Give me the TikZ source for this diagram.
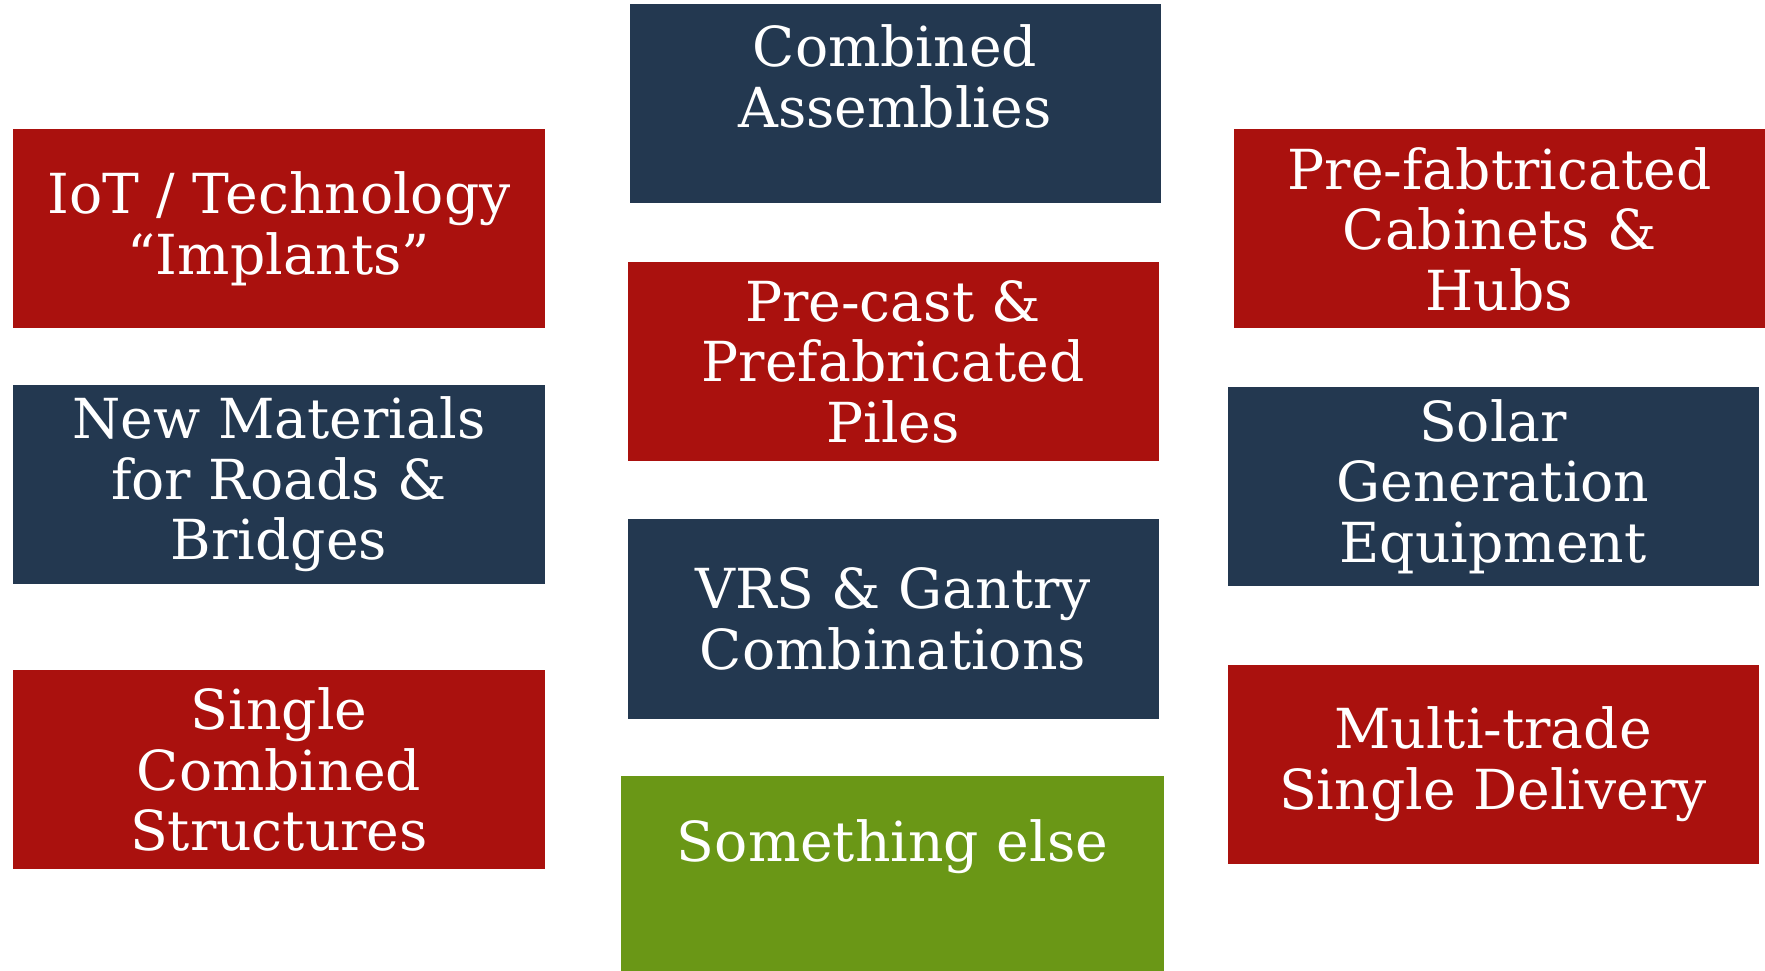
\documentclass[tikz,border=0pt]{standalone}
\usepackage{fontspec}
\setmainfont{DejaVu Serif}
\usepackage{tikz}
\definecolor{boxred}{RGB}{170,17,14}
\definecolor{boxnavy}{RGB}{35,56,80}
\definecolor{boxgreen}{RGB}{106,151,22}

\begin{document}
\begin{tikzpicture}[
	boxtext/.style={inner sep=0pt, align=center, text=white, font=\fontsize{15.7}{17.2}\selectfont},
	box/.style={boxtext, minimum width=5.31cm, minimum height=1.99cm},
	redbox/.style={box, fill=boxred},
	navybox/.style={box, fill=boxnavy},
	greenbox/.style={box, fill=boxgreen}]
			%%%%% START %%%%%
			
			\useasboundingbox (0, 0) rectangle (17.65, -9.71);
			
			% left column
			\node[redbox] (iot) at (2.79, -2.29) {IoT / Technology\\``Implants''};
			\node[navybox] (materials) at (2.79, -4.845) {New Materials\\for Roads \&\\Bridges};
			\node[redbox] (single) at (2.79, -7.695) {Single\\Combined\\Structures};
			
			% middle column
			\node[navybox] (assemblies) at (8.95, -1.035) {};
			\node[boxtext] (assemblies text) at (8.95, -0.765) {Combined\\Assemblies};
			\node[redbox] (piles) at (8.93, -3.615) {Pre-cast \&\\Prefabricated\\Piles};
			\node[navybox] (gantry) at (8.93, -6.19) {VRS \& Gantry\\Combinations};
			\node[greenbox, minimum width=5.43cm, minimum height=1.95cm] (other) at (8.925, -8.735) {};
			\node[boxtext] (other text) at (8.925, -8.465) {Something else};
			
			% right column
			\node[redbox] (cabinets) at (14.995, -2.29) {Pre-fabtricated\\Cabinets \&\\Hubs};
			\node[navybox] (solar) at (14.93, -4.865) {Solar\\Generation\\Equipment};
			\node[redbox] (delivery) at (14.93, -7.64) {Multi-trade\\Single Delivery};
			
			%%%%% END %%%%%
\end{tikzpicture}
\end{document}
